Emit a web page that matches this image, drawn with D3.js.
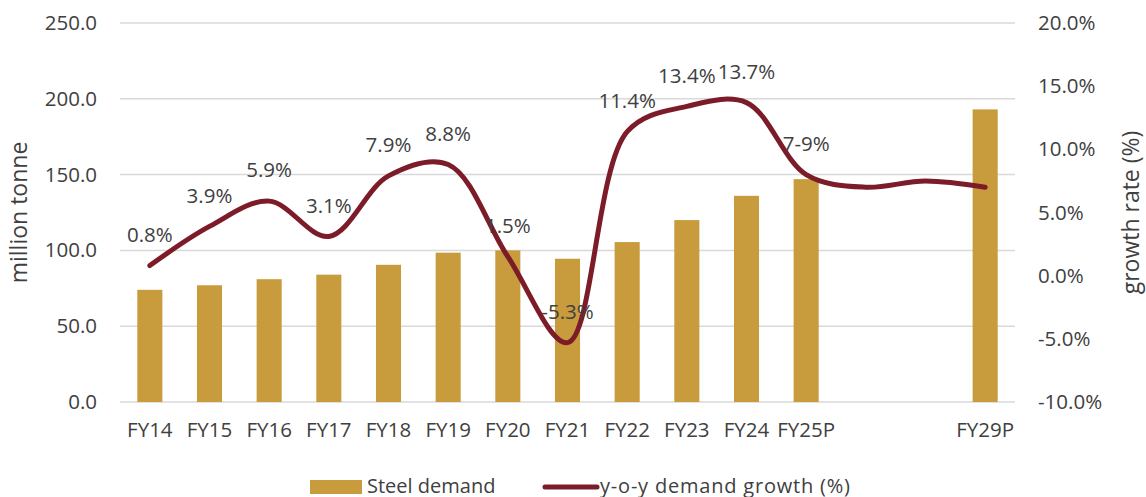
<!DOCTYPE html>
<html lang="en">
<head>
    <meta charset="UTF-8">
    <title>Steel demand</title>
    <script src="https://d3js.org/d3.v7.min.js"></script>
    <style>
        body { margin: 0; background: #fff; }
        text { font-family: "Open Sans", sans-serif; fill: #404040; }
        .grid line { stroke: #d9d9d9; stroke-width: 1.5px; }
        .tick text { font-size: 20.5px; }
    </style>
</head>
<body>
    <script>
        const categories = ["FY14", "FY15", "FY16", "FY17", "FY18", "FY19", "FY20", "FY21",
                            "FY22", "FY23", "FY24", "FY25P", "FY26P", "FY27P", "FY29P"];
        const tickLabels = ["FY14", "FY15", "FY16", "FY17", "FY18", "FY19", "FY20", "FY21",
                            "FY22", "FY23", "FY24", "FY25P", "", "", "FY29P"];
        const demand = [74, 77, 81, 84, 90.5, 98.5, 100, 94.5, 105.5, 120, 136, 147, null, null, 193];
        const growth = [0.8, 3.9, 5.9, 3.1, 7.9, 8.8, 1.5, -5.3, 11.4, 13.4, 13.7, 8.0, 7.0, 7.5, 7.0];
        const growthLabels = ["0.8%", "3.9%", "5.9%", "3.1%", "7.9%", "8.8%", "1.5%", "-5.3%",
                              "11.4%", "13.4%", "13.7%", "7-9%", "", "", ""];
        const leftTicks = [0, 50, 100, 150, 200, 250];
        const rightTicks = [-10, -5, 0, 5, 10, 15, 20];

        const width = 1146, height = 497;
        const plot = { left: 120, right: 1015, top: 23, bottom: 402 };

        const svg = d3.select("body").append("svg")
            .attr("width", width)
            .attr("height", height);

        const x = d3.scaleBand()
            .domain(categories)
            .range([plot.left, plot.right])
            .paddingInner(0.58)
            .paddingOuter(0.29);

        const yLeft = d3.scaleLinear().domain([0, 250]).range([plot.bottom, plot.top]);
        const yRight = d3.scaleLinear().domain([-10, 20]).range([plot.bottom, plot.top]);

        // gridlines
        svg.append("g")
            .attr("class", "grid")
            .selectAll("line")
            .data(leftTicks)
          .enter().append("line")
            .attr("x1", plot.left)
            .attr("x2", plot.right)
            .attr("y1", d => yLeft(d))
            .attr("y2", d => yLeft(d));

        // left axis
        const leftAxis = svg.append("g")
            .attr("transform", `translate(${plot.left},0)`)
            .call(d3.axisLeft(yLeft).tickValues(leftTicks).tickFormat(d3.format(".1f")).tickSize(0).tickPadding(23));
        leftAxis.select(".domain").remove();

        // right axis
        const rightAxis = svg.append("g")
            .attr("transform", `translate(${plot.right},0)`)
            .call(d3.axisRight(yRight).tickValues(rightTicks).tickFormat(d => d.toFixed(1) + "%").tickSize(0).tickPadding(23));
        rightAxis.select(".domain").remove();

        // bottom axis
        const bottomAxis = svg.append("g")
            .attr("transform", `translate(0,${plot.bottom})`)
            .call(d3.axisBottom(x).tickFormat((d, i) => tickLabels[i]).tickSize(0).tickPadding(20));
        bottomAxis.select(".domain").remove();

        // bars
        svg.append("g")
            .selectAll("rect")
            .data(categories.map((c, i) => ({ c, v: demand[i] })).filter(d => d.v != null))
          .enter().append("rect")
            .attr("x", d => x(d.c))
            .attr("width", x.bandwidth())
            .attr("y", d => yLeft(d.v))
            .attr("height", d => yLeft(0) - yLeft(d.v))
            .attr("fill", "#c89b3c");

        // growth line
        const line = d3.line()
            .x((d, i) => x(categories[i]) + x.bandwidth() / 2)
            .y(d => yRight(d))
            .curve(d3.curveCatmullRom.alpha(0.5));

        svg.append("path")
            .datum(growth)
            .attr("fill", "none")
            .attr("stroke", "#7b1c28")
            .attr("stroke-width", 5)
            .attr("stroke-linecap", "round")
            .attr("d", line);

        // data labels
        svg.append("g")
            .selectAll("text")
            .data(growth)
          .enter().append("text")
            .attr("x", (d, i) => x(categories[i]) + x.bandwidth() / 2)
            .attr("y", d => yRight(d) - 31)
            .attr("dy", "0.35em")
            .attr("text-anchor", "middle")
            .style("font-size", "20.5px")
            .text((d, i) => growthLabels[i]);

        // axis titles
        svg.append("text")
            .attr("transform", `translate(19,${(plot.top + plot.bottom) / 2}) rotate(-90)`)
            .attr("text-anchor", "middle")
            .attr("dy", "0.35em")
            .style("font-size", "23px")
            .text("million tonne");

        svg.append("text")
            .attr("transform", `translate(1131,${(plot.top + plot.bottom) / 2}) rotate(-90)`)
            .attr("text-anchor", "middle")
            .attr("dy", "0.35em")
            .style("font-size", "23px")
            .text("growth rate (%)");

        // legend
        const legend = svg.append("g");
        legend.append("rect")
            .attr("x", 310).attr("y", 480)
            .attr("width", 52).attr("height", 14)
            .attr("fill", "#c89b3c");
        legend.append("text")
            .attr("x", 367).attr("y", 486).attr("dy", "0.35em")
            .style("font-size", "20px")
            .text("Steel demand");
        legend.append("line")
            .attr("x1", 545).attr("x2", 597)
            .attr("y1", 487).attr("y2", 487)
            .attr("stroke", "#7b1c28")
            .attr("stroke-width", 5)
            .attr("stroke-linecap", "round");
        legend.append("text")
            .attr("x", 600).attr("y", 486).attr("dy", "0.35em")
            .style("font-size", "20px")
            .attr("textLength", 250)
            .text("y-o-y demand growth (%)");
    </script>
</body>
</html>
